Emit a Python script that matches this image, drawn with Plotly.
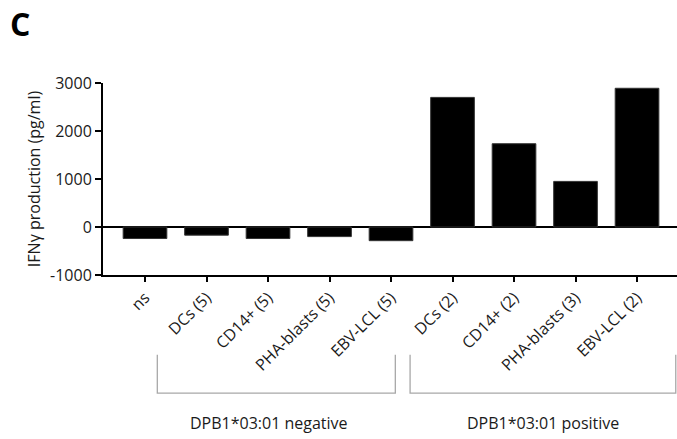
import plotly.graph_objects as go

# IFN-gamma release against stimulator cells, grouped by DPB1*03:01 status
categories = [
    "ns",
    "DCs (5)", "CD14+ (5)", "PHA-blasts (5)", "EBV-LCL (5)",
    "DCs (2)", "CD14+ (2)", "PHA-blasts (3)", "EBV-LCL (2)",
]
ifng_pg_ml = [-240, -170, -240, -200, -285, 2700, 1735, 950, 2890]

y_ticks = [-1000, 0, 1000, 2000, 3000]
group_labels = ["DPB1*03:01 negative", "DPB1*03:01 positive"]

FONT = "Open Sans"
INK = "#1a1a1a"
BRACKET = "#a8a8a8"

fig = go.Figure(
    go.Bar(
        x=list(range(len(categories))),
        y=ifng_pg_ml,
        width=0.71,
        marker=dict(color="black", line=dict(color="#333333", width=1)),
    )
)

fig.update_layout(
    width=677,
    height=439,
    margin=dict(l=103, r=0, t=83, b=164),
    paper_bgcolor="white",
    plot_bgcolor="white",
    showlegend=False,
    font=dict(family=FONT, color=INK),
)

fig.update_xaxes(
    range=[-0.683, 8.65],
    tickmode="array",
    tickvals=list(range(len(categories))),
    ticktext=categories,
    tickangle=-45,
    tickfont=dict(size=16, family=FONT, color=INK),
    ticks="outside",
    ticklen=5,
    tickwidth=2,
    tickcolor="black",
    showline=True,
    linecolor="black",
    linewidth=2,
    showgrid=False,
    zeroline=False,
)

fig.update_yaxes(
    range=[-1000, 3000],
    tickmode="array",
    tickvals=y_ticks,
    ticktext=[str(v) for v in y_ticks],
    tickfont=dict(size=16, family=FONT, color=INK),
    ticks="outside",
    ticklen=6,
    tickwidth=2,
    tickcolor="black",
    showline=True,
    linecolor="black",
    linewidth=2,
    showgrid=False,
    zeroline=True,
    zerolinecolor="black",
    zerolinewidth=1.5,
    title=dict(text="IFNγ production (pg/ml)", font=dict(size=16, family=FONT, color=INK), standoff=5),
)

# group brackets beneath the rotated tick labels
bracket_top, bracket_bottom = -0.415, -0.615
for x0, x1 in [(0.2, 4.07), (4.31, 8.63)]:
    fig.add_shape(
        type="path",
        xref="x", yref="paper",
        path=f"M {x0},{bracket_top} L {x0},{bracket_bottom} L {x1},{bracket_bottom} L {x1},{bracket_top}",
        line=dict(color=BRACKET, width=1.3),
    )

for label, xc in zip(group_labels, [2.02, 6.47]):
    fig.add_annotation(
        x=xc, y=-0.771, xref="x", yref="paper",
        text=label, showarrow=False,
        font=dict(size=16, family=FONT, color=INK),
        xanchor="center", yanchor="middle",
    )

# panel letter in the top-left corner
fig.add_annotation(
    x=-0.165, y=1.312, xref="paper", yref="paper",
    text="<b>C</b>", showarrow=False,
    font=dict(size=32, family=FONT, color="black"),
    xanchor="left", yanchor="middle",
)

fig.write_html("out.html")
